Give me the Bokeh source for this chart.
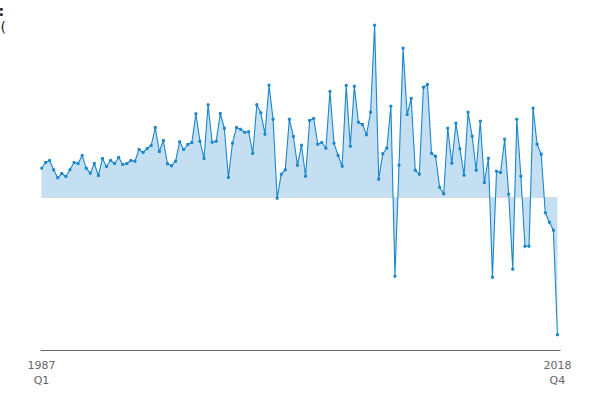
from bokeh.plotting import figure
from bokeh.models import Range1d, FixedTicker, Label
from bokeh.embed import file_html
from bokeh.resources import INLINE

# Quarterly values, 1987 Q1 .. 2018 Q4 (arbitrary units)
quarters = [f"{y} Q{q}" for y in range(1987, 2019) for q in range(1, 5)]
values = [
    29.3, 35, 37, 27.7, 19.7, 24, 21, 27.7, 35, 34, 42, 29.3, 24.3, 34, 22, 39,
    31, 37, 34, 40, 33, 34, 37, 36.3, 48, 45, 49, 52, 70, 46, 57, 33.7,
    31.7, 36.3, 55.7, 48, 53, 55, 83.7, 56.3, 39, 92.7, 55.3, 56.3, 84, 69.3, 20, 54.3,
    70, 68.3, 65.3, 65.7, 44, 92.7, 84.7, 63.3, 112.3, 78.3, -0.7, 23.3, 27.7, 78.3, 61, 32.3,
    52.3, 21.3, 77, 79, 53.3, 55, 49.3, 106, 54.3, 42, 31.3, 112, 51.3, 111.3, 75.3, 73,
    62.7, 85.3, 172.3, 18.3, 43.7, 49.3, 91.3, -78.7, 32.3, 149.3, 83, 99, 27.3, 23.3, 110.3, 113,
    44.3, 41.3, 10.3, 3.7, 69.3, 34.3, 74.3, 48.7, 22.3, 85.3, 61.3, 27.3, 76.3, 15, 39.3, -79.7,
    26.3, 25, 58.3, 3.3, -71.7, 78.3, 21.3, -48.7, -48.7, 89.3, 53.3, 43.3, -15.3, -24.7, -32.7, -137.3,
]
x = list(range(len(values)))
zero = [0] * len(values)
tick_labels = {0: "1987\nQ1", len(values) - 1: "2018\nQ4"}
title_bits = [":", "("]

LINE = "#1a86cb"
FILL = "#c4dff2"
GREY = "#666666"

p = figure(width=584, height=390, output_backend="svg", toolbar_location=None,
           x_range=Range1d(-0.25, 127.75), y_range=Range1d(-153, 177),
           y_axis_location=None, min_border_left=40, min_border_right=24,
           min_border_top=20, min_border_bottom=40)
p.outline_line_color = None
p.grid.visible = False
p.background_fill_color = "white"
p.border_fill_color = "white"

p.varea(x=x, y1=zero, y2=values, fill_color=FILL, fill_alpha=1.0)
p.segment(x0=[x[0]], x1=[x[-1]], y0=[0], y1=[0], line_color="#d9d9d9", line_width=1)
p.line(x=x, y=values, line_color=LINE, line_width=1.1)
p.scatter(x=x, y=values, marker="square", size=2, fill_color=LINE, line_color=LINE)

ax = p.xaxis[0]
ax.ticker = FixedTicker(ticks=list(tick_labels.keys()))
ax.major_label_overrides = tick_labels
ax.major_tick_line_color = None
ax.major_tick_out = 0
ax.major_tick_in = 0
ax.minor_tick_line_color = None
ax.axis_line_color = GREY
ax.axis_line_width = 1
ax.major_label_text_color = GREY
ax.major_label_text_font = "DejaVu Sans"
ax.major_label_text_font_size = "11px"
ax.major_label_standoff = 8

# fragments of a title at the very top-left edge (placed in the left side panel)
p.add_layout(Label(x=-36, y=332, x_units="screen", y_units="screen", text=title_bits[0],
                   text_font="DejaVu Sans", text_font_size="14px", text_color="#222222",
                   text_font_style="bold"), "left")
p.add_layout(Label(x=-29, y=316, x_units="screen", y_units="screen", text=title_bits[1],
                   text_font="DejaVu Sans", text_font_size="14px", text_color="#222222"), "left")

open("out.html", "w").write(file_html(p, INLINE))
